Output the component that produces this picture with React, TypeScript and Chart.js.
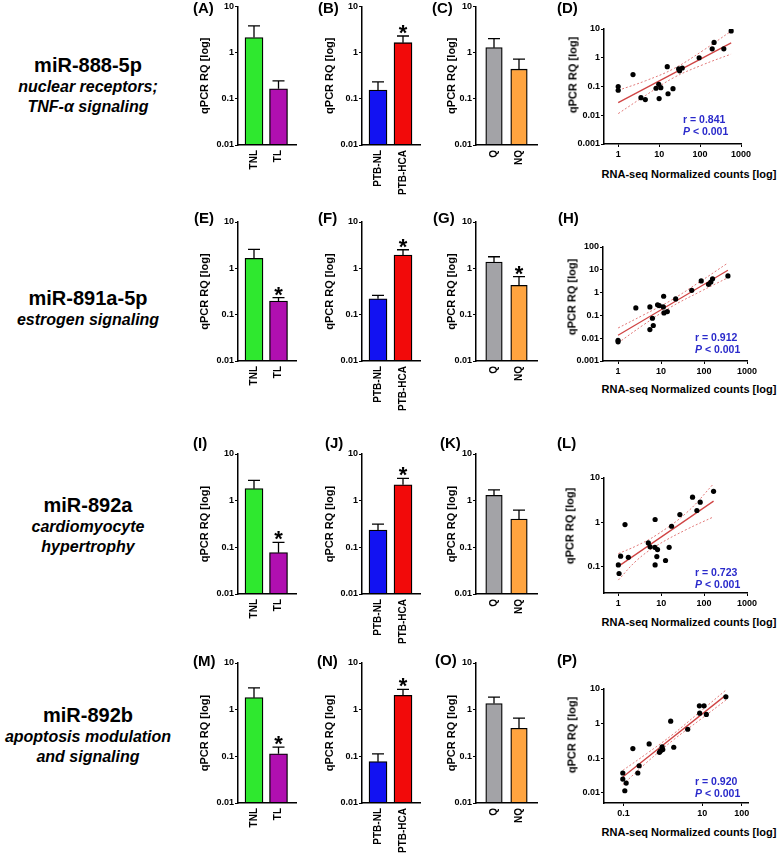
import React, { useEffect, useRef } from 'react';
import { Chart, registerables } from 'chart.js';

Chart.register(...registerables);

const FONT = "'Liberation Sans', Arial, Helvetica, sans-serif";
Chart.defaults.font.family = FONT;
Chart.defaults.color = '#000';

// ---------- categories & colours ----------
const CAT_LABOR = ['TNL', 'TL'];
const CAT_PTB = ['PTB-NL', 'PTB-HCA'];
const CAT_QUIES = ['Q', 'NQ'];
const COL_LABOR = ['#2fe82f', '#b00fb0'];
const COL_PTB = ['#1212f2', '#f20a0a'];
const COL_QUIES = ['#a3a3a7', '#ffa43f'];

// ---------- bar values: mean, upper error bound, significance ----------
const A_MEAN = [2.11, 0.164];
const A_ERR = [3.77, 0.245];
const A_SIG = [false, false];
const B_MEAN = [0.154, 1.64];
const B_ERR = [0.233, 2.29];
const B_SIG = [false, true];
const C_MEAN = [1.28, 0.438];
const C_ERR = [2.0, 0.72];
const C_SIG = [false, false];

const E_MEAN = [1.64, 0.197];
const E_ERR = [2.57, 0.233];
const E_SIG = [false, true];
const F_MEAN = [0.221, 1.94];
const F_ERR = [0.262, 2.52];
const F_SIG = [false, true];
const G_MEAN = [1.37, 0.43];
const G_ERR = [1.78, 0.66];
const G_SIG = [false, true];

const I_MEAN = [1.81, 0.077];
const I_ERR = [2.73, 0.128];
const I_SIG = [false, true];
const J_MEAN = [0.234, 2.18];
const J_ERR = [0.315, 3.0];
const J_SIG = [false, true];
const K_MEAN = [1.3, 0.404];
const K_ERR = [1.7, 0.63];
const K_SIG = [false, false];

const M_MEAN = [1.81, 0.113];
const M_ERR = [2.92, 0.158];
const M_SIG = [false, true];
const N_MEAN = [0.077, 2.03];
const N_ERR = [0.113, 2.73];
const N_SIG = [false, true];
const O_MEAN = [1.35, 0.4];
const O_ERR = [1.86, 0.66];
const O_SIG = [false, false];

// ---------- scatter values (RNA-seq counts vs qPCR RQ) ----------
const D_X = [1, 1, 2.3, 3.6, 4.6, 8.4, 9.8, 11, 10, 15.8, 16.5, 21.8, 30, 31.6, 36.7, 95, 198, 220, 380, 575];
const D_Y = [0.1, 0.074, 0.26, 0.041, 0.035, 0.087, 0.119, 0.091, 0.038, 0.49, 0.056, 0.084, 0.41, 0.35, 0.44, 1.0, 2.05, 3.4, 2.05, 8.6];
const D_FIT_X = [1, 575];
const D_FIT_Y = [0.0275, 3.31];
const D_BAND_X = [1, 4.71, 22.6, 112, 572];
const D_UP_Y = [0.0736, 0.159, 0.415, 1.7, 8.41];
const D_LO_Y = [0.0114, 0.0494, 0.202, 0.557, 1.34];

const H_X = [1, 1, 2.59, 5.5, 5.5, 6.3, 6.6, 8.3, 9.1, 11.5, 11.3, 11.7, 14, 21.9, 51.8, 86, 127, 144, 158, 360];
const H_Y = [0.0081, 0.0069, 0.213, 0.235, 0.024, 0.075, 0.036, 0.29, 0.27, 0.69, 0.235, 0.128, 0.147, 0.53, 1.26, 3.25, 2.3, 2.9, 4.0, 5.4];
const H_FIT_X = [1, 360];
const H_FIT_Y = [0.0135, 9.5];
const H_BAND_X = [1, 3.84, 16.1, 81, 360];
const H_UP_Y = [0.028, 0.103, 0.43, 3.03, 20];
const H_LO_Y = [0.0062, 0.0376, 0.22, 1.1, 4.5];

const L_X = [1, 1.04, 1.13, 1.43, 1.71, 5.0, 5.5, 7.1, 7.2, 7.2, 7.9, 8.2, 12.6, 15.3, 17.4, 27.2, 53.7, 67.8, 81, 166];
const L_Y = [0.108, 0.069, 0.17, 0.885, 0.16, 0.34, 0.277, 0.27, 1.15, 0.108, 0.167, 0.24, 0.136, 0.27, 0.81, 1.49, 3.68, 1.84, 2.84, 5.0];
const L_FIT_X = [1, 166];
const L_FIT_Y = [0.1, 3.0];
const L_BAND_X = [1, 2.69, 7.9, 39.6, 166];
const L_UP_Y = [0.195, 0.294, 0.52, 1.66, 7.4];
const L_LO_Y = [0.049, 0.137, 0.296, 0.69, 1.32];

const P_X = [0.096, 0.096, 0.117, 0.108, 0.173, 0.231, 0.25, 0.448, 0.818, 0.867, 0.957, 0.994, 1.58, 1.89, 4.27, 8.45, 8.6, 11.1, 12.7, 39.8];
const P_Y = [0.037, 0.0247, 0.0189, 0.0113, 0.188, 0.037, 0.06, 0.257, 0.147, 0.161, 0.21, 0.176, 1.17, 0.206, 0.684, 3.26, 2.0, 3.26, 1.83, 5.95];
const P_FIT_X = [0.096, 39.8];
const P_FIT_Y = [0.0283, 6.65];
const P_BAND_X = [0.096, 0.39, 1.85, 8.8, 39.8];
const P_UP_Y = [0.044, 0.135, 0.5, 2.2, 9.3];
const P_LO_Y = [0.017, 0.075, 0.336, 1.29, 4.76];

const CORR_R = ['0.841', '0.912', '0.723', '0.920'];
const CORR_P = ['0.001', '0.001', '0.001', '0.001'];

// ---------- tick values ----------
const BAR_Y_TICKS = [0.01, 0.1, 1, 10];
const D_Y_TICKS = [0.001, 0.01, 0.1, 1, 10];
const H_Y_TICKS = [0.001, 0.01, 0.1, 1, 10, 100];
const L_Y_TICKS = [0.1, 1, 10];
const P_Y_TICKS = [0.01, 0.1, 1, 10];
const COUNT_X_TICKS = [1, 10, 100, 1000];
const P_X_TICKS = [0.1, 10, 100];

const Y_TITLE = 'qPCR RQ [log]';
const X_TITLE = 'RNA-seq Normalized counts [log]';

// ---------- chart builders ----------
type BarSpec = {
  cats: string[]; colors: string[]; mean: number[]; err: number[]; sig: boolean[];
  xmin: number; xmax: number; thick: number; yW: number; padTop: number; xH: number;
};

function makeBar(s: BarSpec): any {
  const errPlugin = {
    id: 'errbars',
    afterDatasetsDraw(chart: any) {
      const meta = chart.getDatasetMeta(0);
      const ys = chart.scales.y;
      const ctx = chart.ctx;
      ctx.save();
      ctx.strokeStyle = '#000';
      ctx.lineWidth = 1.3;
      meta.data.forEach((bar: any, i: number) => {
        const ey = ys.getPixelForValue(s.err[i]);
        ctx.beginPath();
        ctx.moveTo(bar.x, bar.y);
        ctx.lineTo(bar.x, ey);
        ctx.moveTo(bar.x - 6, ey);
        ctx.lineTo(bar.x + 6, ey);
        ctx.stroke();
        if (s.sig[i]) {
          ctx.fillStyle = '#000';
          ctx.font = `bold 22px ${FONT}`;
          ctx.textAlign = 'center';
          ctx.textBaseline = 'alphabetic';
          ctx.fillText('*', bar.x, ey + 4);
        }
      });
      ctx.restore();
    },
  };
  return {
    type: 'bar',
    data: {
      datasets: [
        {
          data: s.mean.map((v, i) => ({ x: i, y: v })),
          backgroundColor: s.colors,
          borderColor: '#000',
          borderWidth: 1.3,
          borderSkipped: false,
          barThickness: s.thick,
        },
      ],
    },
    options: {
      animation: false,
      responsive: false,
      maintainAspectRatio: false,
      layout: { padding: { left: 0, right: 4, top: s.padTop, bottom: 0 } },
      plugins: { legend: { display: false }, tooltip: { enabled: false } },
      scales: {
        x: {
          type: 'linear',
          min: s.xmin,
          max: s.xmax,
          offset: false,
          grid: { display: false, drawTicks: false },
          border: { display: true, color: '#000', width: 1.5 },
          afterBuildTicks: (sc: any) => {
            sc.ticks = s.cats.map((_, i) => ({ value: i }));
          },
          afterFit: (sc: any) => {
            sc.height = s.xH;
          },
          ticks: {
            autoSkip: false,
            minRotation: 90,
            maxRotation: 90,
            padding: 5,
            color: '#000',
            font: { weight: 'bold', size: 10 },
            callback: (v: any) => s.cats[Math.round(Number(v))] ?? '',
          },
        },
        y: {
          type: 'logarithmic',
          min: 0.01,
          max: 10,
          afterBuildTicks: (sc: any) => {
            sc.ticks = BAR_Y_TICKS.map((v) => ({ value: v }));
          },
          afterFit: (sc: any) => {
            sc.width = s.yW;
          },
          grid: { drawOnChartArea: false, tickLength: 3, color: '#000', lineWidth: 1 },
          border: { color: '#000', width: 1.5 },
          ticks: {
            padding: 1,
            color: '#000',
            font: { weight: 'bold', size: 9 },
            callback: (v: any) => String(Number(v)),
          },
          title: {
            display: true,
            text: Y_TITLE,
            padding: 0,
            color: '#000',
            font: { weight: 'bold', size: 11 },
          },
        },
      },
    },
    plugins: [errPlugin],
  };
}

type ScatterSpec = {
  x: number[]; y: number[]; fitX: number[]; fitY: number[]; bandX: number[]; upY: number[]; loY: number[];
  xmin: number; xmax: number; ymin: number; ymax: number; xTicks: number[]; yTicks: number[];
  yW: number; padTop: number; padRight: number; xH: number;
};

function makeScatter(s: ScatterSpec): any {
  const zip = (xs: number[], ys: number[]) => xs.map((v, i) => ({ x: v, y: ys[i] }));
  return {
    type: 'scatter',
    data: {
      datasets: [
        {
          data: zip(s.x, s.y),
          pointRadius: 2.6,
          pointBackgroundColor: '#000',
          pointBorderWidth: 0,
          showLine: false,
        },
        {
          data: zip(s.fitX, s.fitY),
          showLine: true,
          pointRadius: 0,
          borderColor: '#d04444',
          borderWidth: 1.3,
        },
        {
          data: zip(s.bandX, s.upY),
          showLine: true,
          pointRadius: 0,
          borderColor: '#e27a7a',
          borderWidth: 1,
          borderDash: [2, 2],
          tension: 0.4,
        },
        {
          data: zip(s.bandX, s.loY),
          showLine: true,
          pointRadius: 0,
          borderColor: '#e27a7a',
          borderWidth: 1,
          borderDash: [2, 2],
          tension: 0.4,
        },
      ],
    },
    options: {
      animation: false,
      responsive: false,
      maintainAspectRatio: false,
      layout: { padding: { left: 0, right: s.padRight, top: s.padTop, bottom: 0 } },
      plugins: { legend: { display: false }, tooltip: { enabled: false } },
      scales: {
        x: {
          type: 'logarithmic',
          min: s.xmin,
          max: s.xmax,
          afterBuildTicks: (sc: any) => {
            sc.ticks = s.xTicks.map((v) => ({ value: v }));
          },
          afterFit: (sc: any) => {
            sc.height = s.xH;
          },
          grid: { drawOnChartArea: false, tickLength: 3, color: '#000', lineWidth: 1 },
          border: { color: '#000', width: 1.5 },
          ticks: {
            autoSkip: false,
            maxRotation: 0,
            padding: 2,
            color: '#000',
            font: { weight: 'bold', size: 9 },
            callback: (v: any) => String(Number(v)),
          },
        },
        y: {
          type: 'logarithmic',
          min: s.ymin,
          max: s.ymax,
          afterBuildTicks: (sc: any) => {
            sc.ticks = s.yTicks.map((v) => ({ value: v }));
          },
          afterFit: (sc: any) => {
            sc.width = s.yW;
          },
          grid: { drawOnChartArea: false, tickLength: 3, color: '#000', lineWidth: 1 },
          border: { color: '#000', width: 1.5 },
          ticks: {
            padding: 1,
            color: '#000',
            font: { weight: 'bold', size: 9 },
            callback: (v: any) => String(Number(v)),
          },
        },
      },
    },
  };
}

// ---------- layout ----------
const ROWS = [
  { top: 6, bottom: 145, canvasTop: 0 },
  { top: 222, bottom: 361, canvasTop: 214 },
  { top: 454, bottom: 594, canvasTop: 446 },
  { top: 663, bottom: 803, canvasTop: 655 },
];
const BAR_COLS = [
  { left: 198, axis: 238, end: 296, xmin: -0.653, xmax: 1.714, thick: 18 },
  { left: 323, axis: 362, end: 420, xmin: -0.64, xmax: 1.68, thick: 18 },
  { left: 445, axis: 476, end: 537, xmin: -0.72, xmax: 1.72, thick: 16.5 },
];

function ChartCanvas({ left, top, width, height, config }: { left: number; top: number; width: number; height: number; config: any }) {
  const ref = useRef<HTMLCanvasElement>(null);
  useEffect(() => {
    const chart = new Chart(ref.current as HTMLCanvasElement, config);
    return () => chart.destroy();
  }, []);
  return (
    <canvas
      ref={ref}
      width={width}
      height={height}
      style={{ position: 'absolute', left, top, width, height }}
    />
  );
}

const BAR_ROWS = [
  [
    { cats: CAT_LABOR, colors: COL_LABOR, mean: A_MEAN, err: A_ERR, sig: A_SIG },
    { cats: CAT_PTB, colors: COL_PTB, mean: B_MEAN, err: B_ERR, sig: B_SIG },
    { cats: CAT_QUIES, colors: COL_QUIES, mean: C_MEAN, err: C_ERR, sig: C_SIG },
  ],
  [
    { cats: CAT_LABOR, colors: COL_LABOR, mean: E_MEAN, err: E_ERR, sig: E_SIG },
    { cats: CAT_PTB, colors: COL_PTB, mean: F_MEAN, err: F_ERR, sig: F_SIG },
    { cats: CAT_QUIES, colors: COL_QUIES, mean: G_MEAN, err: G_ERR, sig: G_SIG },
  ],
  [
    { cats: CAT_LABOR, colors: COL_LABOR, mean: I_MEAN, err: I_ERR, sig: I_SIG },
    { cats: CAT_PTB, colors: COL_PTB, mean: J_MEAN, err: J_ERR, sig: J_SIG },
    { cats: CAT_QUIES, colors: COL_QUIES, mean: K_MEAN, err: K_ERR, sig: K_SIG },
  ],
  [
    { cats: CAT_LABOR, colors: COL_LABOR, mean: M_MEAN, err: M_ERR, sig: M_SIG },
    { cats: CAT_PTB, colors: COL_PTB, mean: N_MEAN, err: N_ERR, sig: N_SIG },
    { cats: CAT_QUIES, colors: COL_QUIES, mean: O_MEAN, err: O_ERR, sig: O_SIG },
  ],
];

const SCATTERS = [
  {
    left: 566, top: 21, width: 213, height: 145,
    spec: { x: D_X, y: D_Y, fitX: D_FIT_X, fitY: D_FIT_Y, bandX: D_BAND_X, upY: D_UP_Y, loY: D_LO_Y,
      xmin: 0.45, xmax: 1000, ymin: 0.001, ymax: 10, xTicks: COUNT_X_TICKS, yTicks: D_Y_TICKS,
      yW: 38, padTop: 8, padRight: 38, xH: 22 },
    yTitle: { x: 573, y: 75 }, xTitleY: 174, corr: { x: 683, y: 119 },
  },
  {
    left: 565, top: 239, width: 214, height: 144,
    spec: { x: H_X, y: H_Y, fitX: H_FIT_X, fitY: H_FIT_Y, bandX: H_BAND_X, upY: H_UP_Y, loY: H_LO_Y,
      xmin: 0.446, xmax: 1000, ymin: 0.001, ymax: 100, xTicks: COUNT_X_TICKS, yTicks: H_Y_TICKS,
      yW: 38, padTop: 8, padRight: 32, xH: 22 },
    yTitle: { x: 572, y: 297 }, xTitleY: 389, corr: { x: 695, y: 337 },
  },
  {
    left: 565, top: 470, width: 214, height: 145,
    spec: { x: L_X, y: L_Y, fitX: L_FIT_X, fitY: L_FIT_Y, bandX: L_BAND_X, upY: L_UP_Y, loY: L_LO_Y,
      xmin: 0.463, xmax: 1000, ymin: 0.025, ymax: 10, xTicks: COUNT_X_TICKS, yTicks: L_Y_TICKS,
      yW: 39, padTop: 8, padRight: 32, xH: 22 },
    yTitle: { x: 570, y: 526 }, xTitleY: 622, corr: { x: 695, y: 572 },
  },
  {
    left: 565, top: 681, width: 214, height: 144,
    spec: { x: P_X, y: P_Y, fitX: P_FIT_X, fitY: P_FIT_Y, bandX: P_BAND_X, upY: P_UP_Y, loY: P_LO_Y,
      xmin: 0.032, xmax: 145, ymin: 0.005, ymax: 10, xTicks: P_X_TICKS, yTicks: P_Y_TICKS,
      yW: 39, padTop: 8, padRight: 31, xH: 22 },
    yTitle: { x: 572, y: 735 }, xTitleY: 832, corr: { x: 695, y: 781 },
  },
];

const PANEL_LABELS = [
  { t: '(A)', x: 193, y: 7 }, { t: '(B)', x: 318, y: 7 }, { t: '(C)', x: 432, y: 7 }, { t: '(D)', x: 557, y: 7 },
  { t: '(E)', x: 194, y: 217 }, { t: '(F)', x: 318, y: 217 }, { t: '(G)', x: 433, y: 217 }, { t: '(H)', x: 558, y: 217 },
  { t: '(I)', x: 193, y: 442 }, { t: '(J)', x: 325, y: 442 }, { t: '(K)', x: 440, y: 442 }, { t: '(L)', x: 557, y: 442 },
  { t: '(M)', x: 193, y: 660 }, { t: '(N)', x: 317, y: 660 }, { t: '(O)', x: 435, y: 659 }, { t: '(P)', x: 557, y: 659 },
];

const ROW_TITLES = [
  { name: 'miR-888-5p', desc: ['nuclear receptors;', 'TNF-α signaling'], top: 55 },
  { name: 'miR-891a-5p', desc: ['estrogen signaling'], top: 288 },
  { name: 'miR-892a', desc: ['cardiomyocyte', 'hypertrophy'], top: 495 },
  { name: 'miR-892b', desc: ['apoptosis modulation', 'and signaling'], top: 705 },
];

export default function App() {
  const abs: React.CSSProperties = { position: 'absolute', whiteSpace: 'nowrap', color: '#000' };
  return (
    <div
      style={{
        position: 'absolute', left: 0, top: 0, width: 779, height: 856,
        background: '#fff', overflow: 'hidden', fontFamily: FONT,
      }}
    >
      {ROW_TITLES.map((r, ri) => (
        <React.Fragment key={'rt' + ri}>
          <div style={{ ...abs, left: 0, width: 176, top: r.top, textAlign: 'center', fontSize: 20, fontWeight: 'bold', lineHeight: '20px' }}>
            {r.name}
          </div>
          {r.desc.map((d, di) => (
            <div key={di} style={{ ...abs, left: 0, width: 176, top: r.top + 24.4 + 20 * di, textAlign: 'center', fontSize: 16, fontWeight: 'bold', fontStyle: 'italic', lineHeight: '16px' }}>
              {d}
            </div>
          ))}
        </React.Fragment>
      ))}

      {BAR_ROWS.map((row, ri) =>
        row.map((p, ci) => {
          const R = ROWS[ri];
          const C = BAR_COLS[ci];
          const padTop = R.top - R.canvasTop;
          const xH = 56;
          const width = C.end - C.left + 4;
          const height = R.bottom + xH - R.canvasTop;
          const cfg = makeBar({
            ...p, xmin: C.xmin, xmax: C.xmax, thick: C.thick,
            yW: C.axis - C.left, padTop, xH,
          });
          return (
            <ChartCanvas key={`b${ri}${ci}`} left={C.left} top={R.canvasTop} width={width} height={height} config={cfg} />
          );
        })
      )}

      {SCATTERS.map((s, i) => (
        <React.Fragment key={'s' + i}>
          <ChartCanvas left={s.left} top={s.top} width={s.width} height={s.height} config={makeScatter(s.spec)} />
          <div style={{ ...abs, left: s.yTitle.x, top: s.yTitle.y, fontSize: 11, fontWeight: 'bold', lineHeight: '11px', transform: 'translate(-50%, -50%) rotate(-90deg)' }}>
            {Y_TITLE}
          </div>
          <div style={{ ...abs, left: 689, top: s.xTitleY - 5.5, fontSize: 11, fontWeight: 'bold', lineHeight: '11px', transform: 'translateX(-50%)' }}>
            {X_TITLE}
          </div>
          <div style={{ ...abs, left: s.corr.x, top: s.corr.y - 5.5, fontSize: 10.5, fontWeight: 'bold', lineHeight: '11px', color: '#2a2acb' }}>
            r = {CORR_R[i]}
          </div>
          <div style={{ ...abs, left: s.corr.x, top: s.corr.y + 7, fontSize: 10.5, fontWeight: 'bold', lineHeight: '11px', color: '#2a2acb' }}>
            <i>P</i> &lt; {CORR_P[i]}
          </div>
        </React.Fragment>
      ))}

      {PANEL_LABELS.map((l) => (
        <div key={l.t} style={{ ...abs, left: l.x, top: l.y - 7.3, fontSize: 15, fontWeight: 'bold', lineHeight: '15px' }}>
          {l.t}
        </div>
      ))}
    </div>
  );
}
